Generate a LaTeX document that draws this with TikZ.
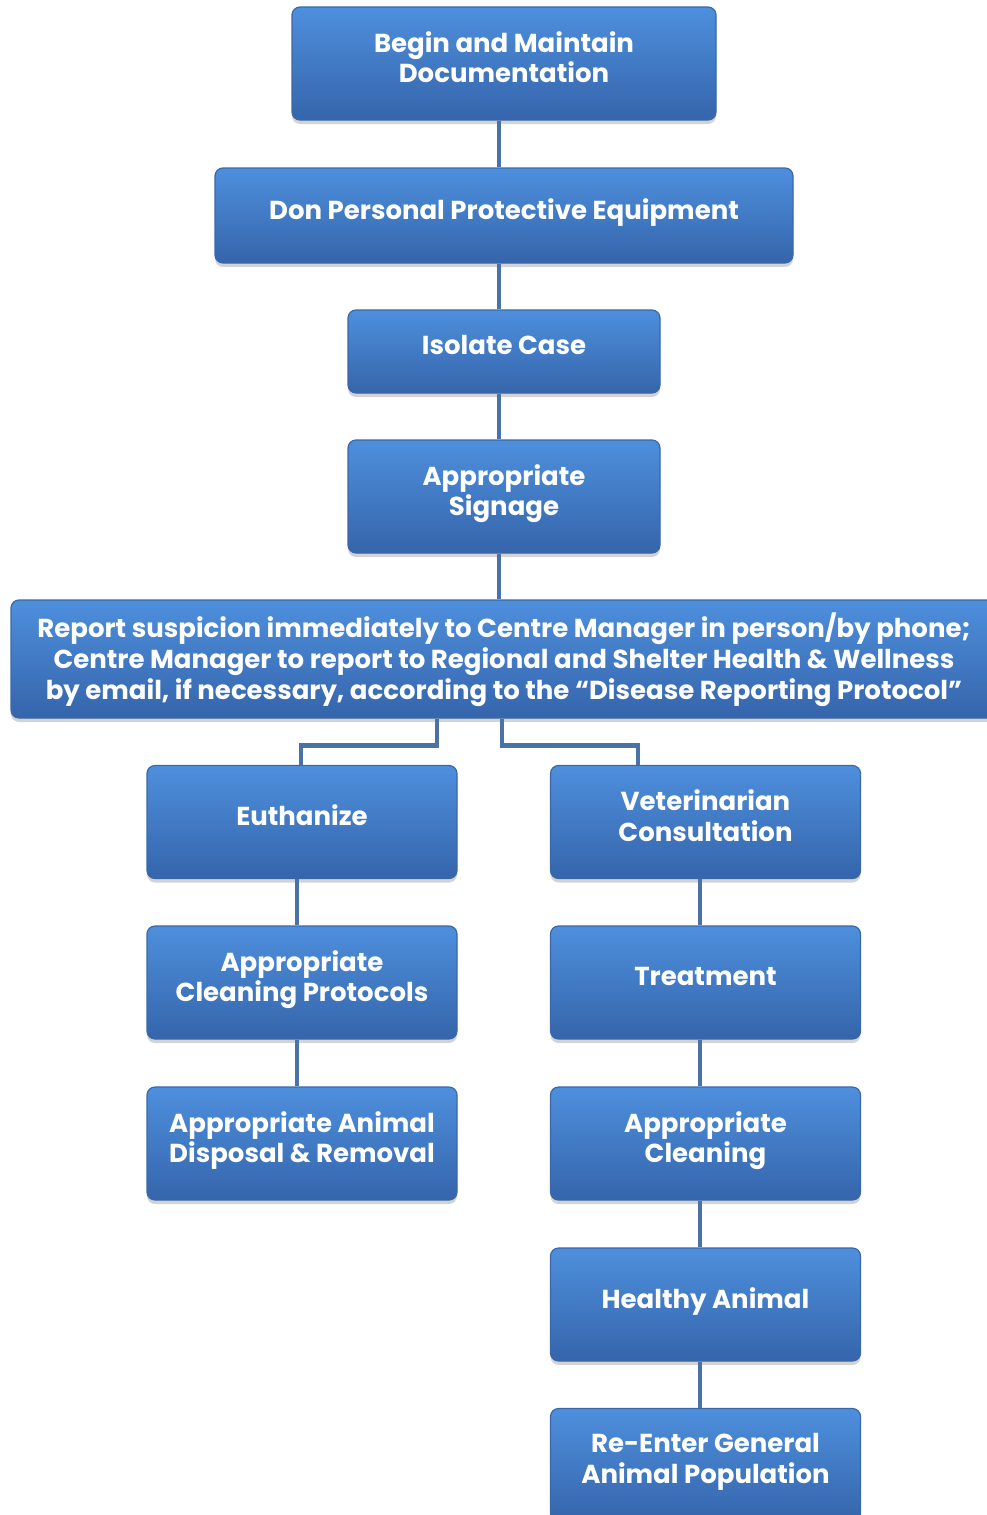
\documentclass[tikz,border=0pt]{standalone}
\usepackage{fontspec}
\setmainfont{Poppins}
\usetikzlibrary{shadows}
\definecolor{boxtop}{HTML}{4E8FDD}
\definecolor{boxbot}{HTML}{3565AB}
\definecolor{boxedge}{HTML}{3A68A6}
\definecolor{linkblue}{HTML}{4A72A8}
\tikzset{
  stepbox/.style={draw=boxedge, line width=1.2pt, rounded corners=8pt,
    top color=boxtop, bottom color=boxbot, text=white, align=center,
    font=\fontsize{26}{30.5}\selectfont\bfseries, inner sep=0pt, text depth=13pt,
    minimum width=310pt, minimum height=113pt,
    drop shadow={shadow xshift=0pt, shadow yshift=-4pt, opacity=.35}},
  link/.style={draw=linkblue, line width=4.5pt}
}
\begin{document}
\begin{tikzpicture}[x=1pt,y=-1pt]
\useasboundingbox (0,0) rectangle (987,1515);
\node[stepbox, minimum width=424pt] (doc) at (504,63.5){Begin and Maintain\\Documentation};
\node[stepbox, minimum width=578pt, minimum height=95pt] (ppe) at (504,215.5){Don Personal Protective Equipment};
\node[stepbox, minimum width=312pt, minimum height=83pt] (isolate) at (504,351.5){Isolate Case};
\node[stepbox, minimum width=312pt] (signage) at (504,496.5){Appropriate\\Signage};
\node[stepbox, minimum width=986pt, minimum height=118pt, text depth=6pt, font=\fontsize{26}{31}\selectfont\bfseries] (report) at (504,659){Report suspicion immediately to Centre Manager in person/by phone;\\Centre Manager to report to Regional and Shelter Health \& Wellness\\by email, if necessary, according to the “Disease Reporting Protocol”};
\draw[link]([xshift=-5pt]doc.south) -- ([xshift=-5pt]ppe.north);
\draw[link]([xshift=-5pt]ppe.south) -- ([xshift=-5pt]isolate.north);
\draw[link]([xshift=-5pt]isolate.south) -- ([xshift=-5pt]signage.north);
\draw[link]([xshift=-5pt]signage.south) -- ([xshift=-5pt]report.north);
% left branch
\node[stepbox] (euth) at (302,822){Euthanize};
\node[stepbox] (cleanprot) at (302,982.5){Appropriate\\Cleaning Protocols};
\node[stepbox] (disposal) at (302,1143.5){Appropriate Animal\\Disposal \& Removal};
\draw[link]([xshift=-67pt]report.south) -- ++(0,27) -| ([xshift=-1pt]euth.north);
\draw[link]([xshift=-5pt]euth.south) -- ([xshift=-5pt]cleanprot.north);
\draw[link]([xshift=-5pt]cleanprot.south) -- ([xshift=-5pt]disposal.north);
% right branch
\node[stepbox] (vet) at (705.5,822){Veterinarian\\Consultation};
\node[stepbox] (treat) at (705.5,982.5){Treatment};
\node[stepbox] (clean) at (705.5,1143.5){Appropriate\\Cleaning};
\node[stepbox] (healthy) at (705.5,1304.5){Healthy Animal};
\node[stepbox] (reenter) at (705.5,1465){Re-Enter General\\Animal Population};
\draw[link]([xshift=-2pt]report.south) -- ++(0,27) -| ([xshift=-67.5pt]vet.north);
\draw[link]([xshift=-5.5pt]vet.south) -- ([xshift=-5.5pt]treat.north);
\draw[link]([xshift=-5.5pt]treat.south) -- ([xshift=-5.5pt]clean.north);
\draw[link]([xshift=-5.5pt]clean.south) -- ([xshift=-5.5pt]healthy.north);
\draw[link]([xshift=-5.5pt]healthy.south) -- ([xshift=-5.5pt]reenter.north);
\end{tikzpicture}
\end{document}
